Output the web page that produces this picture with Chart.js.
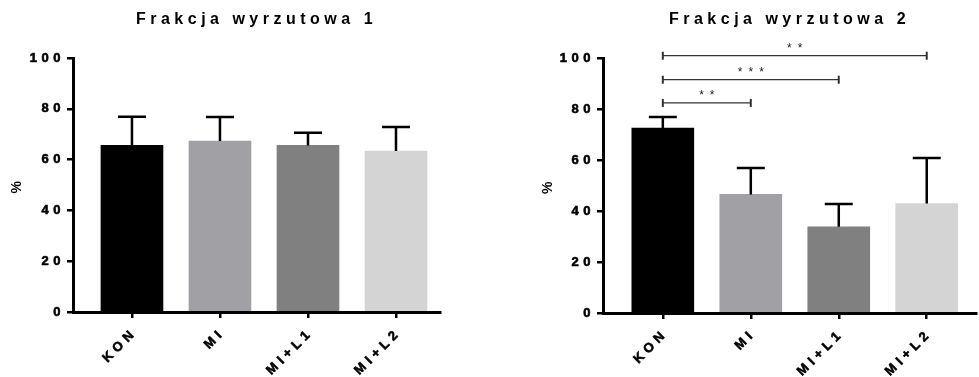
<!DOCTYPE html>
<html>
<head>
<meta charset="utf-8">
<script src="https://cdn.jsdelivr.net/npm/chart.js@4.4.1/dist/chart.umd.min.js"></script>
<style>
  body { margin: 0; background: #fff; }
  #wrap { position: relative; width: 979px; height: 377px; }
  canvas { position: absolute; top: 0; }
</style>
</head>
<body>
<div id="wrap">
  <canvas id="chart1" width="485" height="377" style="left:0"></canvas>
  <canvas id="chart2" width="489" height="377" style="left:490px"></canvas>
</div>
<script>
// data
const categories = ["KON", "MI", "MI+L1", "MI+L2"];
const frakcja1 = [65.6, 67.3, 65.6, 63.4];
const frakcja1Err = [11.3, 9.5, 5.0, 9.4];
const frakcja2 = [72.5, 46.5, 33.8, 42.9];
const frakcja2Err = [4.4, 10.4, 8.9, 17.9];
const yTicks = [0, 20, 40, 60, 80, 100];

// significance brackets (chart 2)
const bracketFrom = [0, 0, 0];
const bracketTo = [1, 2, 3];
const bracketLevel = [82.4, 91.5, 100.9];
const bracketLabel = ["**", "***", "**"];

const barColors = ["#000000", "#a1a1a5", "#808080", "#d4d4d4"];
const FONT = "'Liberation Sans', Arial, sans-serif";

// wide letter spacing like the original
const spacing = {
  id: "spacing",
  beforeUpdate(chart) { chart.ctx.letterSpacing = "4.5px"; },
  beforeDraw(chart) { chart.ctx.letterSpacing = "4.5px"; }
};

// error bars, upper half only
const errorBars = {
  id: "errorBars",
  afterDatasetsDraw(chart, args, opts) {
    const ctx = chart.ctx;
    const y = chart.scales.y;
    const values = chart.data.datasets[0].data;
    ctx.save();
    ctx.strokeStyle = "#000";
    ctx.lineWidth = 2.5;
    chart.getDatasetMeta(0).data.forEach((bar, i) => {
      const top = y.getPixelForValue(values[i].y + opts.errors[i]);
      ctx.beginPath();
      ctx.moveTo(bar.x, bar.y);
      ctx.lineTo(bar.x, top);
      ctx.moveTo(bar.x - 14, top);
      ctx.lineTo(bar.x + 14, top);
      ctx.stroke();
    });
    ctx.restore();
  }
};

// significance brackets
const brackets = {
  id: "brackets",
  afterDatasetsDraw(chart, args, opts) {
    if (!opts.from) return;
    const ctx = chart.ctx;
    const x = chart.scales.x, y = chart.scales.y;
    ctx.save();
    ctx.strokeStyle = "#333";
    ctx.fillStyle = "#222";
    ctx.letterSpacing = "6px";
    ctx.font = "12px " + FONT;
    ctx.textAlign = "center";
    ctx.textBaseline = "middle";
    opts.from.forEach((f, i) => {
      const x1 = x.getPixelForValue(f);
      const x2 = x.getPixelForValue(opts.to[i]);
      const yy = y.getPixelForValue(opts.level[i]);
      ctx.lineWidth = 1.3;
      ctx.beginPath();
      ctx.moveTo(x1, yy); ctx.lineTo(x2, yy);
      ctx.stroke();
      ctx.lineWidth = 2;
      ctx.beginPath();
      ctx.moveTo(x1, yy - 4); ctx.lineTo(x1, yy + 4);
      ctx.moveTo(x2, yy - 4); ctx.lineTo(x2, yy + 4);
      ctx.stroke();
      ctx.fillText(opts.label[i], (x1 + x2) / 2 + 3, yy - 7);
    });
    ctx.restore();
  }
};

function makeChart(id, title, values, errors, opt) {
  const points = values.map((v, i) => ({ x: i, y: v }));
  return new Chart(document.getElementById(id), {
    type: "bar",
    data: {
      datasets: [{
        data: points,
        backgroundColor: barColors,
        borderWidth: 0,
        barThickness: 62
      }]
    },
    options: {
      responsive: false,
      animation: false,
      layout: { padding: { left: opt.padLeft, right: opt.padRight, top: 0, bottom: 0 } },
      plugins: {
        legend: { display: false },
        tooltip: { enabled: false },
        title: {
          display: true,
          fullSize: false,
          text: title,
          color: "#000",
          font: { family: FONT, size: 16, weight: "bold" },
          padding: { top: 10, bottom: 28.8 }
        },
        errorBars: { errors: errors },
        brackets: opt.brackets || {}
      },
      scales: {
        x: {
          type: "linear",
          offset: false,
          min: opt.xMin,
          max: opt.xMax,
          afterBuildTicks: s => { s.ticks = categories.map((c, i) => ({ value: i })); },
          afterFit: s => { s.height = opt.xHeight; },
          border: { display: true, color: "#000", width: 3 },
          grid: { offset: false, drawOnChartArea: false, color: "#000", lineWidth: 2.5, tickLength: 6 },
          ticks: {
            color: "#000",
            font: { family: FONT, size: 13, weight: "bold" },
            textStrokeColor: "#000",
            textStrokeWidth: 0.6,
            minRotation: 45,
            maxRotation: 45,
            padding: 7,
            labelOffset: 3,
            autoSkip: false,
            callback: v => categories[v]
          }
        },
        y: {
          min: 0,
          max: 100,
          afterBuildTicks: s => { s.ticks = yTicks.map(v => ({ value: v })); },
          afterFit: s => { s.width = opt.yWidth; },
          border: { display: true, color: "#000", width: 3 },
          grid: { drawOnChartArea: false, color: "#000", lineWidth: 2.5, tickLength: 6 },
          ticks: {
            color: "#000",
            font: { family: FONT, size: 13, weight: "bold" },
            textStrokeColor: "#000",
            textStrokeWidth: 0.6,
            padding: 2
          },
          title: {
            display: true,
            text: "%",
            color: "#000",
            font: { family: FONT, size: 14, weight: "bold" },
            padding: 0
          }
        }
      }
    },
    plugins: [spacing, errorBars, brackets]
  });
}

makeChart("chart1", "Frakcja wyrzutowa 1", frakcja1, frakcja1Err, {
  padLeft: 9, yWidth: 64, padRight: 45, xMin: -0.67, xMax: 3.5, xHeight: 65
});

makeChart("chart2", "Frakcja wyrzutowa 2", frakcja2, frakcja2Err, {
  padLeft: 50, yWidth: 63, padRight: 3, xMin: -0.68, xMax: 3.56, xHeight: 64,
  brackets: { from: bracketFrom, to: bracketTo, level: bracketLevel, label: bracketLabel }
});
</script>
</body>
</html>
